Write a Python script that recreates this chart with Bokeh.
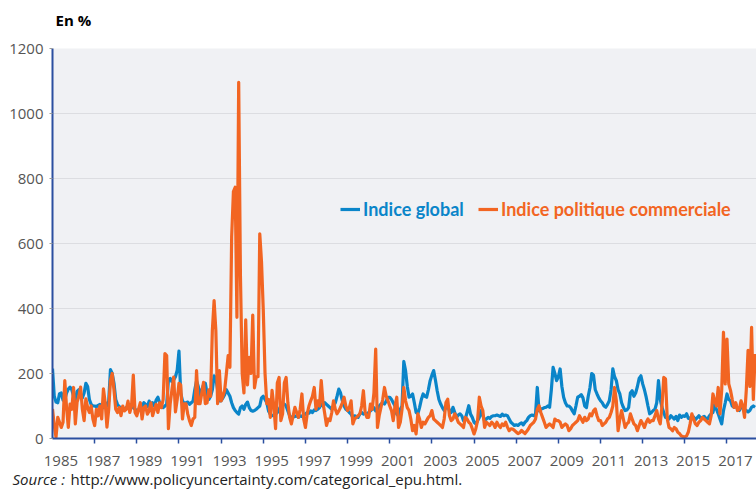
from bokeh.plotting import figure
from bokeh.layouts import column
from bokeh.models import (Range1d, FixedTicker, CustomJSTickFormatter,
                          Legend, LegendItem, ColumnDataSource)
from bokeh.core.properties import value
from bokeh.embed import file_html
from bokeh.resources import INLINE

# ---- data (monthly, Jan 1985 -> May 2018) ----
start_year = 1985
year_labels = list(range(1985, 2018, 2))
year_ticks = list(range(1987, 2018, 2))
y_ticks = [0, 200, 400, 600, 800, 1000, 1200]

indice_global = [
    215, 130, 112, 110, 138, 140, 118, 120, 140, 152, 158, 150,   # 1985
    130, 118, 145, 150, 135, 125, 140, 170, 160, 120, 105, 100,   # 1986
    100, 98, 102, 105, 100, 95, 110, 100, 115, 212, 200, 170,     # 1987
    120, 105, 98, 95, 92, 90, 95, 100, 92, 105, 95, 90,           # 1988
    85, 88, 95, 100, 110, 105, 98, 115, 105, 110, 100, 118,       # 1989
    127, 110, 100, 95, 100, 105, 180, 185, 175, 180, 190, 210,    # 1990
    269, 140, 116, 108, 110, 112, 105, 110, 115, 150, 177, 160,   # 1991
    130, 150, 165, 170, 140, 120, 130, 150, 193, 185, 150, 116,   # 1992
    116, 125, 135, 150, 140, 130, 110, 95, 86, 80, 75, 95,        # 1993
    100, 90, 105, 112, 95, 86, 84, 86, 90, 95, 100, 125,          # 1994
    130, 120, 110, 85, 75, 70, 72, 75, 80, 90, 100, 106,          # 1995
    106, 100, 85, 70, 65, 66, 68, 70, 65, 70, 68, 72,             # 1996
    75, 80, 78, 85, 80, 88, 86, 90, 95, 106, 100, 110,            # 1997
    105, 100, 95, 90, 100, 110, 130, 152, 140, 116, 100, 90,      # 1998
    86, 80, 75, 65, 70, 68, 65, 76, 80, 75, 78, 76,               # 1999
    80, 85, 90, 95, 85, 90, 100, 106, 110, 106, 115, 127,         # 2000
    127, 120, 110, 100, 75, 70, 90, 100, 237, 209, 160, 127,      # 2001
    130, 137, 110, 80, 76, 96, 120, 137, 130, 127, 150, 178,      # 2002
    195, 209, 180, 147, 120, 106, 95, 86, 95, 100, 85, 80,        # 2003
    96, 80, 65, 72, 76, 70, 55, 60, 80, 101, 75, 65,              # 2004
    50, 45, 55, 65, 86, 70, 55, 60, 65, 62, 68, 70,               # 2005
    70, 72, 70, 68, 75, 70, 72, 70, 60, 50, 45, 40,               # 2006
    42, 40, 45, 48, 42, 50, 55, 65, 70, 72, 70, 75,               # 2007
    157, 85, 90, 92, 95, 96, 100, 96, 150, 219, 200, 178,         # 2008
    190, 214, 160, 127, 110, 100, 100, 95, 85, 76, 100, 127,      # 2009
    130, 135, 125, 100, 95, 130, 157, 200, 195, 150, 137, 125,    # 2010
    116, 110, 100, 96, 105, 116, 150, 214, 190, 178, 150, 137,    # 2011
    110, 96, 86, 88, 95, 140, 147, 130, 140, 160, 185, 193,       # 2012
    168, 150, 127, 100, 76, 80, 86, 90, 110, 178, 120, 96,        # 2013
    80, 65, 65, 60, 70, 65, 60, 68, 55, 72, 65, 70,               # 2014
    68, 76, 62, 60, 70, 66, 58, 64, 70, 62, 65, 68,               # 2015
    62, 60, 70, 76, 80, 106, 90, 76, 60, 45, 86, 110,             # 2016
    137, 120, 116, 100, 96, 105, 90, 86, 95, 96, 90, 86,          # 2017
    82, 86, 96, 100, 96,                                          # 2018
]

indice_commerce = [
    91, 40, 4, 65, 50, 34, 50, 178, 96, 34, 106, 90,              # 1985
    157, 45, 112, 130, 158, 90, 55, 122, 95, 80, 100, 60,         # 1986
    40, 90, 70, 100, 60, 153, 110, 35, 90, 178, 200, 150,         # 1987
    90, 80, 95, 70, 100, 85, 90, 115, 80, 100, 195, 80,           # 1988
    70, 90, 110, 60, 95, 100, 75, 85, 110, 70, 90, 105,           # 1989
    80, 110, 95, 120, 261, 255, 30, 107, 150, 189, 82, 120,       # 1990
    170, 165, 60, 107, 107, 75, 55, 40, 60, 65, 209, 107,         # 1991
    107, 140, 173, 107, 110, 150, 130, 332, 424, 332, 107, 209,   # 1992
    116, 130, 148, 200, 255, 219, 620, 760, 773, 373, 1096, 500,  # 1993
    200, 140, 365, 165, 250, 200, 380, 156, 190, 190, 630, 543,   # 1994
    395, 200, 107, 120, 65, 148, 100, 30, 171, 188, 55, 76,       # 1995
    171, 188, 110, 65, 45, 70, 96, 80, 65, 90, 137, 60,           # 1996
    34, 76, 100, 116, 130, 157, 90, 116, 100, 178, 110, 76,       # 1997
    40, 60, 55, 80, 116, 90, 76, 85, 96, 110, 127, 100,           # 1998
    86, 95, 116, 45, 60, 65, 70, 76, 100, 147, 80, 65,            # 1999
    65, 106, 90, 140, 275, 34, 70, 96, 120, 157, 130, 116,        # 2000
    100, 86, 55, 100, 127, 34, 50, 90, 157, 116, 95, 86,          # 2001
    60, 24, 40, 14, 76, 60, 34, 50, 45, 55, 65, 70,               # 2002
    86, 60, 55, 50, 45, 40, 34, 60, 111, 121, 70, 55,             # 2003
    60, 76, 65, 50, 45, 40, 34, 65, 60, 50, 45, 30,               # 2004
    14, 30, 55, 127, 100, 86, 34, 50, 45, 40, 50, 45,             # 2005
    34, 50, 40, 34, 45, 40, 50, 35, 24, 30, 29, 25,               # 2006
    20, 15, 18, 25, 20, 15, 22, 30, 40, 45, 50, 60,               # 2007
    90, 101, 80, 65, 50, 34, 40, 45, 40, 34, 60, 55,              # 2008
    55, 50, 34, 40, 45, 40, 24, 30, 40, 45, 50, 55,               # 2009
    70, 60, 50, 65, 55, 60, 76, 70, 85, 91, 70, 55,               # 2010
    55, 40, 45, 50, 60, 65, 80, 100, 157, 116, 24, 60,            # 2011
    86, 60, 34, 45, 50, 76, 60, 45, 40, 24, 40, 55,               # 2012
    45, 34, 50, 60, 50, 55, 55, 70, 86, 60, 45, 100,              # 2013
    188, 183, 60, 34, 30, 24, 34, 30, 19, 15, 8, 6,               # 2014
    5, 8, 20, 45, 76, 60, 45, 40, 50, 55, 65, 60,                 # 2015
    55, 50, 45, 70, 137, 116, 100, 157, 76, 150, 327, 168,        # 2016
    306, 168, 148, 120, 96, 110, 86, 90, 116, 100, 65, 150,       # 2017
    271, 160, 342, 120, 260,                                      # 2018
]

unit_label = "En %"
source_prefix = "Source :"
source_url = "http://www.policyuncertainty.com/categorical_epu.html."

months = [start_year + i / 12 for i in range(len(indice_global))]
src = ColumnDataSource(dict(t=months, g=indice_global, c=indice_commerce))

BLUE = "#0a85c9"
ORANGE = "#f26522"
AXIS = "#2b4fa0"
FONT = "Open Sans"
W = 756
HEAD_H, MAIN_H, FOOT_H = 30, 440, 19


def text_strip(height):
    f = figure(width=W, height=height, x_range=Range1d(0, W), y_range=Range1d(0, height),
               output_backend="svg", toolbar_location=None,
               x_axis_type=None, y_axis_type=None, min_border=0,
               min_border_left=0, min_border_right=0, min_border_top=0, min_border_bottom=0,
               background_fill_color="white", border_fill_color="white",
               outline_line_color=None, frame_align=False)
    f.xgrid.visible = False
    f.ygrid.visible = False
    return f


# ---- header ("En %") ----
head = text_strip(HEAD_H)
head.text(x=[55], y=[11], text=[unit_label], text_font=value(FONT),
          text_font_style="bold", text_font_size="15px", text_color="black",
          text_baseline="alphabetic")

# ---- main chart ----
p = figure(width=W, height=MAIN_H,
           x_range=Range1d(1985.0, 2018.4), y_range=Range1d(0, 1200),
           output_backend="svg", toolbar_location=None,
           min_border_left=52, min_border_right=0,
           min_border_top=18, min_border_bottom=32,
           background_fill_color="#f0f1f4", border_fill_color="white",
           outline_line_color=None, frame_align=False)

xa = p.xaxis[0]
xa.ticker = FixedTicker(ticks=[y + 0.4 for y in year_labels], minor_ticks=year_ticks)
xa.formatter = CustomJSTickFormatter(code="return Math.floor(tick).toString();")
xa.major_tick_line_color = None
xa.major_tick_out = 0
xa.major_tick_in = 0
xa.minor_tick_out = 5
xa.minor_tick_in = 0
xa.minor_tick_line_color = AXIS
xa.minor_tick_line_width = 1.5
xa.axis_line_color = AXIS
xa.axis_line_width = 2
xa.major_label_standoff = 12
xa.major_label_text_font = FONT
xa.major_label_text_font_size = "15px"
xa.major_label_text_color = "#555555"

ya = p.yaxis[0]
ya.ticker = FixedTicker(ticks=y_ticks)
ya.major_tick_out = 3
ya.major_tick_in = 0
ya.major_tick_line_color = "#9a9a9a"
ya.minor_tick_line_color = None
ya.axis_line_color = AXIS
ya.axis_line_width = 2
ya.major_label_standoff = 6
ya.major_label_text_font = FONT
ya.major_label_text_font_size = "15px"
ya.major_label_text_color = "#555555"

p.xgrid.visible = False
p.ygrid.ticker = FixedTicker(ticks=y_ticks[1:])
p.ygrid.grid_line_color = "#dcdde1"
p.ygrid.grid_line_width = 1

rb = p.line("t", "g", source=src, line_color=BLUE, line_width=3.2, line_join="round")
ro = p.line("t", "c", source=src, line_color=ORANGE, line_width=3.2, line_join="round")

for r, lab, col, loc in [(rb, "Indice global", BLUE, (288, 218)),
                         (ro, "Indice politique commerciale", ORANGE, (426, 218))]:
    leg = Legend(items=[LegendItem(label=lab, renderers=[r])], location=loc,
                 orientation="horizontal", padding=0, margin=0, spacing=0,
                 glyph_width=20, glyph_height=20, label_height=20,
                 label_standoff=3, label_text_color=col, label_text_font="Lato",
                 label_text_font_style="bold", label_text_font_size="18px",
                 background_fill_alpha=0, border_line_alpha=0)
    p.add_layout(leg)

# ---- footer (source) ----
foot = text_strip(FOOT_H)
foot.text(x=[12], y=[11], text=[source_prefix], text_font=value(FONT),
          text_font_style="italic", text_font_size="15px", text_color="#222222",
          text_baseline="alphabetic")
foot.text(x=[70], y=[11], text=[source_url], text_font=value(FONT),
          text_font_size="15px", text_color="#222222", text_baseline="alphabetic")

layout = column(head, p, foot, spacing=0)
open("out.html", "w").write(file_html(layout, INLINE))
